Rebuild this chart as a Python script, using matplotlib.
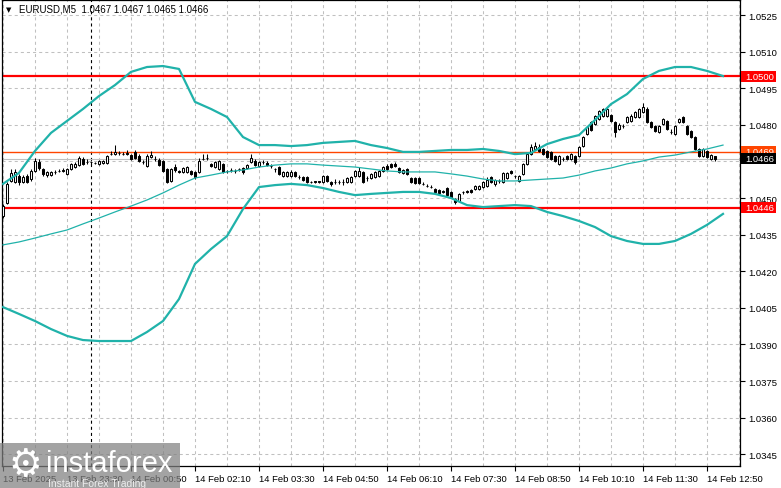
import numpy as np
import matplotlib
matplotlib.use("Agg")
import matplotlib.pyplot as plt
from matplotlib.patches import Rectangle

plt.rcParams['lines.scale_dashes'] = False

# ---------------- data ----------------
symbol_title = "EURUSD,M5  1.0467 1.0467 1.0465 1.0466"

opens = [
    1.04426, 1.04480, 1.04570, 1.04566, 1.04590, 1.04566, 1.04590, 1.04578, 1.04611, 1.04648,
    1.04619, 1.04594, 1.04596, 1.04607, 1.04611, 1.04611, 1.04599, 1.04619, 1.04627, 1.04635,
    1.04660, 1.04648, 1.04646, 1.04644, 1.04640, 1.04642, 1.04644, 1.04681, 1.04681, 1.04685,
    1.04681, 1.04683, 1.04676, 1.04689, 1.04672, 1.04648, 1.04631, 1.04668, 1.04660, 1.04656,
    1.04652, 1.04619, 1.04570, 1.04627, 1.04611, 1.04607, 1.04607, 1.04611, 1.04607, 1.04607,
    1.04660, 1.04664, 1.04640, 1.04627, 1.04619, 1.04640, 1.04611, 1.04613, 1.04611, 1.04619,
    1.04623, 1.04623, 1.04648, 1.04652, 1.04631, 1.04648, 1.04644, 1.04631, 1.04619, 1.04627,
    1.04590, 1.04590, 1.04590, 1.04607, 1.04586, 1.04586, 1.04586, 1.04566, 1.04568, 1.04568,
    1.04566, 1.04590, 1.04566, 1.04566, 1.04566, 1.04566, 1.04566, 1.04566, 1.04590, 1.04590,
    1.04607, 1.04582, 1.04582, 1.04586, 1.04590, 1.04611, 1.04631, 1.04640, 1.04640, 1.04623,
    1.04603, 1.04619, 1.04582, 1.04582, 1.04582, 1.04557, 1.04549, 1.04545, 1.04537, 1.04533,
    1.04529, 1.04541, 1.04525, 1.04496, 1.04488, 1.04525, 1.04529, 1.04533, 1.04537, 1.04537,
    1.04545, 1.04549, 1.04586, 1.04557, 1.04570, 1.04566, 1.04582, 1.04611, 1.04590, 1.04570,
    1.04599, 1.04640, 1.04681, 1.04701, 1.04709, 1.04701, 1.04693, 1.04689, 1.04672, 1.04640,
    1.04660, 1.04672, 1.04660, 1.04672, 1.04672, 1.04713, 1.04763, 1.04812, 1.04804, 1.04824,
    1.04836, 1.04836, 1.04840, 1.04812, 1.04783, 1.04795, 1.04812, 1.04816, 1.04832, 1.04832,
    1.04853, 1.04865, 1.04812, 1.04795, 1.04771, 1.04804, 1.04816, 1.04771, 1.04763, 1.04812,
    1.04832, 1.04795, 1.04775, 1.04750, 1.04701, 1.04672, 1.04693, 1.04660, 1.04672,
]

highs = [
    1.04475, 1.04566, 1.04620, 1.04620, 1.04600, 1.04595, 1.04600, 1.04620, 1.04664, 1.04660,
    1.04625, 1.04612, 1.04612, 1.04615, 1.04620, 1.04622, 1.04625, 1.04645, 1.04648, 1.04672,
    1.04668, 1.04660, 1.04652, 1.04648, 1.04656, 1.04656, 1.04676, 1.04693, 1.04718, 1.04693,
    1.04689, 1.04697, 1.04681, 1.04697, 1.04680, 1.04656, 1.04680, 1.04693, 1.04672, 1.04664,
    1.04656, 1.04623, 1.04625, 1.04640, 1.04615, 1.04627, 1.04631, 1.04615, 1.04611, 1.04664,
    1.04681, 1.04681, 1.04644, 1.04652, 1.04656, 1.04644, 1.04615, 1.04623, 1.04619, 1.04623,
    1.04627, 1.04640, 1.04681, 1.04660, 1.04652, 1.04656, 1.04652, 1.04640, 1.04623, 1.04631,
    1.04611, 1.04611, 1.04615, 1.04611, 1.04594, 1.04590, 1.04590, 1.04570, 1.04570, 1.04570,
    1.04594, 1.04594, 1.04570, 1.04578, 1.04574, 1.04578, 1.04586, 1.04590, 1.04615, 1.04627,
    1.04611, 1.04590, 1.04603, 1.04611, 1.04615, 1.04631, 1.04640, 1.04644, 1.04648, 1.04627,
    1.04619, 1.04623, 1.04586, 1.04586, 1.04586, 1.04566, 1.04557, 1.04553, 1.04541, 1.04537,
    1.04533, 1.04545, 1.04529, 1.04500, 1.04521, 1.04529, 1.04533, 1.04537, 1.04553, 1.04553,
    1.04570, 1.04586, 1.04590, 1.04578, 1.04578, 1.04607, 1.04607, 1.04615, 1.04594, 1.04594,
    1.04644, 1.04685, 1.04722, 1.04730, 1.04722, 1.04705, 1.04697, 1.04693, 1.04676, 1.04676,
    1.04668, 1.04676, 1.04685, 1.04676, 1.04713, 1.04755, 1.04795, 1.04816, 1.04840, 1.04861,
    1.04869, 1.04873, 1.04844, 1.04816, 1.04808, 1.04804, 1.04836, 1.04844, 1.04857, 1.04869,
    1.04890, 1.04873, 1.04816, 1.04799, 1.04799, 1.04828, 1.04820, 1.04783, 1.04799, 1.04828,
    1.04836, 1.04799, 1.04779, 1.04755, 1.04705, 1.04705, 1.04697, 1.04681, 1.04672,
]

lows = [
    1.04418, 1.04475, 1.04566, 1.04560, 1.04555, 1.04560, 1.04560, 1.04570, 1.04605, 1.04615,
    1.04590, 1.04586, 1.04590, 1.04600, 1.04605, 1.04605, 1.04595, 1.04615, 1.04622, 1.04630,
    1.04635, 1.04640, 1.04640, 1.04640, 1.04636, 1.04638, 1.04640, 1.04676, 1.04676, 1.04676,
    1.04676, 1.04676, 1.04656, 1.04660, 1.04648, 1.04640, 1.04627, 1.04664, 1.04652, 1.04631,
    1.04605, 1.04560, 1.04566, 1.04607, 1.04603, 1.04603, 1.04603, 1.04594, 1.04578, 1.04603,
    1.04656, 1.04656, 1.04627, 1.04623, 1.04615, 1.04603, 1.04603, 1.04607, 1.04603, 1.04611,
    1.04599, 1.04619, 1.04644, 1.04631, 1.04627, 1.04640, 1.04631, 1.04623, 1.04607, 1.04594,
    1.04586, 1.04586, 1.04586, 1.04586, 1.04578, 1.04570, 1.04562, 1.04562, 1.04562, 1.04562,
    1.04562, 1.04566, 1.04549, 1.04557, 1.04557, 1.04553, 1.04562, 1.04562, 1.04586, 1.04586,
    1.04562, 1.04570, 1.04578, 1.04582, 1.04586, 1.04607, 1.04615, 1.04623, 1.04627, 1.04603,
    1.04599, 1.04594, 1.04562, 1.04557, 1.04557, 1.04553, 1.04545, 1.04541, 1.04521, 1.04517,
    1.04521, 1.04508, 1.04500, 1.04475, 1.04484, 1.04517, 1.04521, 1.04521, 1.04533, 1.04533,
    1.04541, 1.04545, 1.04562, 1.04549, 1.04562, 1.04562, 1.04578, 1.04599, 1.04582, 1.04566,
    1.04594, 1.04635, 1.04676, 1.04697, 1.04689, 1.04676, 1.04664, 1.04656, 1.04648, 1.04635,
    1.04652, 1.04656, 1.04656, 1.04640, 1.04668, 1.04709, 1.04759, 1.04775, 1.04799, 1.04820,
    1.04832, 1.04832, 1.04812, 1.04750, 1.04779, 1.04787, 1.04808, 1.04812, 1.04828, 1.04828,
    1.04849, 1.04808, 1.04787, 1.04771, 1.04767, 1.04799, 1.04779, 1.04763, 1.04759, 1.04808,
    1.04808, 1.04759, 1.04746, 1.04697, 1.04668, 1.04668, 1.04664, 1.04656, 1.04650,
]

closes = [
    1.04467, 1.04557, 1.04603, 1.04607, 1.04566, 1.04586, 1.04566, 1.04611, 1.04652, 1.04623,
    1.04599, 1.04607, 1.04607, 1.04605, 1.04611, 1.04613, 1.04619, 1.04640, 1.04640, 1.04664,
    1.04640, 1.04646, 1.04648, 1.04644, 1.04652, 1.04652, 1.04672, 1.04681, 1.04689, 1.04683,
    1.04681, 1.04681, 1.04660, 1.04664, 1.04652, 1.04646, 1.04672, 1.04676, 1.04660, 1.04635,
    1.04611, 1.04566, 1.04619, 1.04615, 1.04607, 1.04623, 1.04627, 1.04599, 1.04586, 1.04652,
    1.04660, 1.04664, 1.04631, 1.04648, 1.04652, 1.04607, 1.04611, 1.04615, 1.04611, 1.04619,
    1.04607, 1.04635, 1.04664, 1.04635, 1.04648, 1.04648, 1.04635, 1.04631, 1.04619, 1.04599,
    1.04607, 1.04607, 1.04607, 1.04590, 1.04586, 1.04574, 1.04566, 1.04566, 1.04566, 1.04566,
    1.04590, 1.04570, 1.04557, 1.04566, 1.04566, 1.04566, 1.04582, 1.04586, 1.04611, 1.04611,
    1.04566, 1.04582, 1.04599, 1.04607, 1.04611, 1.04627, 1.04619, 1.04627, 1.04631, 1.04607,
    1.04615, 1.04599, 1.04566, 1.04562, 1.04562, 1.04557, 1.04549, 1.04545, 1.04525, 1.04521,
    1.04525, 1.04512, 1.04504, 1.04484, 1.04517, 1.04525, 1.04525, 1.04525, 1.04549, 1.04549,
    1.04566, 1.04574, 1.04566, 1.04574, 1.04570, 1.04603, 1.04603, 1.04603, 1.04590, 1.04590,
    1.04640, 1.04681, 1.04709, 1.04713, 1.04693, 1.04681, 1.04668, 1.04660, 1.04652, 1.04672,
    1.04660, 1.04660, 1.04681, 1.04648, 1.04709, 1.04750, 1.04791, 1.04779, 1.04836, 1.04857,
    1.04865, 1.04865, 1.04816, 1.04771, 1.04799, 1.04795, 1.04832, 1.04836, 1.04853, 1.04865,
    1.04873, 1.04812, 1.04791, 1.04775, 1.04795, 1.04824, 1.04783, 1.04771, 1.04795, 1.04824,
    1.04812, 1.04763, 1.04750, 1.04701, 1.04672, 1.04701, 1.04668, 1.04676, 1.04660,
]

# Bollinger bands read at every 4th bar (bar index listed in band_bars)
band_bars = list(range(0, 177, 4)) + [180]
bb_upper = [
    1.04558, 1.04603, 1.04693, 1.04767, 1.04816, 1.04865, 1.04918, 1.04963, 1.05017, 1.05037,
    1.05041, 1.05029, 1.04894, 1.04865, 1.04832, 1.04750, 1.04717, 1.04717, 1.04713, 1.04717,
    1.04726, 1.04730, 1.04734, 1.04717, 1.04705, 1.04689, 1.04689, 1.04693, 1.04697, 1.04697,
    1.04701, 1.04693, 1.04680, 1.04685, 1.04721, 1.04742, 1.04758, 1.04820, 1.04885, 1.04926,
    1.04988, 1.05021, 1.05037, 1.05037, 1.05021, 1.05000,
]
bb_lower = [
    1.04053, 1.04025, 1.03996, 1.03963, 1.03935, 1.03918, 1.03914, 1.03914, 1.03914, 1.03951,
    1.03996, 1.04086, 1.04230, 1.04291, 1.04344, 1.04455, 1.04545, 1.04553, 1.04558, 1.04553,
    1.04541, 1.04525, 1.04512, 1.04517, 1.04521, 1.04525, 1.04525, 1.04517, 1.04500, 1.04471,
    1.04463, 1.04467, 1.04471, 1.04467, 1.04443, 1.04426, 1.04406, 1.04381, 1.04344, 1.04324,
    1.04312, 1.04312, 1.04324, 1.04353, 1.04390, 1.04435,
]
bb_middle = [
    1.04308, 1.04320, 1.04336, 1.04353, 1.04369, 1.04394, 1.04418, 1.04443, 1.04467, 1.04492,
    1.04521, 1.04553, 1.04582, 1.04594, 1.04607, 1.04615, 1.04627, 1.04635, 1.04640, 1.04640,
    1.04635, 1.04631, 1.04627, 1.04619, 1.04611, 1.04607, 1.04607, 1.04607, 1.04599, 1.04590,
    1.04578, 1.04570, 1.04570, 1.04574, 1.04578, 1.04582, 1.04594, 1.04611, 1.04623, 1.04640,
    1.04652, 1.04668, 1.04676, 1.04689, 1.04701, 1.04717,
]

price_ticks = [1.0345, 1.0360, 1.0375, 1.0390, 1.0405, 1.0420, 1.0435, 1.0450,
               1.0465, 1.0480, 1.0495, 1.0510, 1.0525]
hidden_tick_label = 1.0465   # covered by the bid price box in the chart
time_labels = ["13 Feb 2025", "13 Feb 23:30", "14 Feb 00:50", "14 Feb 02:10",
               "14 Feb 03:30", "14 Feb 04:50", "14 Feb 06:10", "14 Feb 07:30",
               "14 Feb 08:50", "14 Feb 10:10", "14 Feb 11:30", "14 Feb 12:50"]
bars_per_label = 16
day_separator_bar = 22

resistance = 1.0500
support = 1.0446
level_mid = 1.0469
current_price = 1.0466

# ---------------- figure ----------------
W, H = 781, 489
fig = plt.figure(figsize=(W / 100, H / 100), dpi=100)
fig.patch.set_facecolor('white')
ax = fig.add_axes([2 / W, (H - 467) / H, 738 / W, 466 / H])
ax.set_facecolor('white')

n = len(closes)
idx = np.arange(n)
o = np.array(opens); c = np.array(closes)
h = np.array(highs); l = np.array(lows)

ax.set_xlim(-0.25, 184.25)
ax.set_ylim(1.034018, 1.053116)
ymin, ymax = ax.get_ylim()
per_px = (ymax - ymin) / 466.0

FONT = 'Liberation Sans'

# grid
gcol = '#c0c0c0'
for p in price_ticks:
    ax.axhline(p, color=gcol, lw=0.75, ls=(0, (2.2, 2.2)), zorder=1)
for k in np.arange(0, 185, 8):
    ax.axvline(k, color=gcol, lw=0.75, ls=(0, (2.2, 2.2)), zorder=1)

# day separator
ax.axvline(day_separator_bar, color='black', lw=0.8, ls=(0, (2.2, 2.2)), zorder=1.5)

# levels
ax.axhline(current_price, color='#c0c0c0', lw=0.8, zorder=2)
ax.axhline(level_mid, color='#ff4500', lw=1.0, zorder=2)
ax.axhline(resistance, color='#ff0000', lw=1.6, zorder=2)
ax.axhline(support, color='#ff0000', lw=1.6, zorder=2)

# candles
ax.vlines(idx, l, h, color='black', lw=0.75, zorder=3)
bull = c >= o
body_bot = np.minimum(o, c)
body_h = np.abs(c - o)
ax.bar(idx[bull], body_h[bull], bottom=body_bot[bull], width=0.62,
       color='white', edgecolor='black', linewidth=0.75, zorder=3.5)
ax.bar(idx[~bull], body_h[~bull], bottom=body_bot[~bull], width=0.62,
       color='black', edgecolor='black', linewidth=0.75, zorder=3.5)

# Bollinger bands
bcol = '#20b2aa'
ax.plot(band_bars, bb_upper, color=bcol, lw=1.6, zorder=4, solid_joinstyle='round')
ax.plot(band_bars, bb_lower, color=bcol, lw=1.6, zorder=4, solid_joinstyle='round')
ax.plot(band_bars, bb_middle, color=bcol, lw=0.9, zorder=4)

# axes styling
for s in ax.spines.values():
    s.set_color('black'); s.set_linewidth(0.9)
ax.yaxis.tick_right()
ax.set_yticks(price_ticks)
ax.set_yticklabels(["" if abs(p - hidden_tick_label) < 1e-9 else f"{p:.4f}"
                    for p in price_ticks])
ax.tick_params(axis='y', direction='out', length=3.5, width=0.8, pad=2.5,
               labelsize=6.8, colors='black')
for t in ax.get_yticklabels():
    t.set_fontfamily(FONT)

xt = [i * bars_per_label for i in range(len(time_labels))]
ax.set_xticks(xt)
ax.set_xticklabels(time_labels)
ax.tick_params(axis='x', direction='out', length=3.5, width=0.8, pad=2.5,
               labelsize=6.8, colors='black')
for t in ax.get_xticklabels():
    t.set_fontfamily(FONT)
    t.set_horizontalalignment('left')

# price label boxes on the right axis
ytr = ax.get_yaxis_transform()
def price_box(val, fc, z):
    box_h = 11 * per_px
    ax.add_patch(Rectangle((1.0014, val - box_h / 2), 35 / 738, box_h, transform=ytr,
                           fc=fc, ec='none', zorder=z, clip_on=False))
    ax.text(1.0075, val, f"{val:.4f}", transform=ytr, ha='left', va='center',
            fontsize=6.8, family=FONT, color='white', zorder=z + 0.1, clip_on=False)

price_box(resistance, '#ff0000', 6)
price_box(level_mid, '#ff4500', 6)
price_box(current_price, '#000000', 7)
price_box(support, '#ff0000', 6)

# title
ax.text(4 / 738, 1 - 9 / 466, "\u25bc", transform=ax.transAxes, ha='left', va='center',
        fontsize=5, family='DejaVu Sans', color='black', zorder=8)
ax.text(17 / 738, 1 - 9 / 466, symbol_title, transform=ax.transAxes, ha='left',
        va='center', fontsize=7, family=FONT, color='black', zorder=8)

# watermark
fig.add_artist(Rectangle((0, 0), 180 / W, 45 / H, transform=fig.transFigure,
                         fc='#808080', ec='none', alpha=0.72, zorder=10))
fig.text(25 / W, (H - 466) / H, "\u2699", ha='center', va='center', fontsize=27,
         family='DejaVu Sans', color='white', zorder=11)
fig.text(46 / W, (H - 472) / H, "instaforex", ha='left', va='baseline', fontsize=21,
         family=FONT, color='white', zorder=11)
fig.text(48 / W, (H - 487) / H, "Instant Forex Trading", ha='left', va='baseline',
         fontsize=7.5, family=FONT, color='#ececec', zorder=11)

fig.savefig('out.png', dpi=100, facecolor='white')
